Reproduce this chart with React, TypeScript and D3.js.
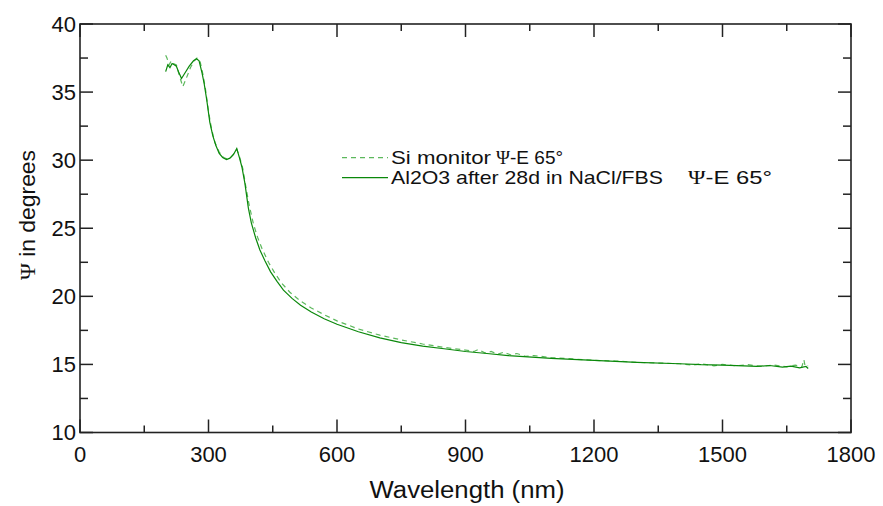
import React from "react";
import * as d3 from "d3";

const siWl = [200, 203, 208, 213, 218, 225, 232, 240, 248, 258, 267, 273, 280, 287, 293, 300, 307, 315, 325, 335, 343, 352, 360, 366, 372, 380, 388, 395, 405, 415, 425, 440, 455, 470, 490, 515, 540, 570, 600, 650, 700, 750, 800, 850, 900, 920, 930, 945, 960, 975, 990, 1005, 1020, 1040, 1060, 1100, 1150, 1200, 1250, 1300, 1350, 1400, 1430, 1450, 1480, 1500, 1530, 1560, 1590, 1620, 1650, 1670, 1685, 1690, 1693, 1700];
const siPsi = [37.7, 37.5, 37.0, 37.3, 37.1, 37.0, 36.2, 35.4, 36.0, 36.8, 37.3, 37.5, 37.3, 36.3, 35.2, 33.6, 32.3, 31.3, 30.6, 30.2, 30.1, 30.2, 30.5, 30.8, 30.3, 29.4, 27.9, 26.7, 25.3, 24.3, 23.5, 22.5, 21.7, 21.0, 20.3, 19.65, 19.15, 18.65, 18.2, 17.6, 17.15, 16.8, 16.5, 16.25, 16.05, 15.95, 16.1, 15.85, 15.95, 15.75, 15.9, 15.7, 15.8, 15.6, 15.65, 15.5, 15.4, 15.3, 15.25, 15.15, 15.1, 15.05, 14.95, 15.05, 14.9, 15.0, 14.9, 14.98, 14.85, 14.95, 14.82, 14.95, 14.8, 15.35, 14.85, 14.9];

const alWl = [200, 205, 210, 215, 220, 225, 230, 237, 245, 255, 265, 272, 278, 285, 290, 296, 303, 310, 317, 325, 333, 342, 350, 358, 366, 372, 378, 385, 393, 400, 410, 420, 432, 445, 460, 475, 495, 515, 540, 570, 600, 650, 700, 750, 800, 850, 900, 950, 1000, 1100, 1200, 1300, 1400, 1450, 1500, 1550, 1580, 1610, 1640, 1660, 1680, 1695, 1700];
const alPsi = [36.5, 37.0, 36.8, 37.1, 37.0, 36.9, 36.5, 36.0, 36.4, 36.9, 37.3, 37.45, 37.3, 36.4, 35.6, 34.4, 32.8, 31.8, 31.1, 30.5, 30.2, 30.05, 30.15, 30.4, 30.85, 30.2, 29.5, 28.3, 26.5, 25.4, 24.3, 23.4, 22.6, 21.8, 21.1, 20.45, 19.85, 19.35, 18.85, 18.35, 17.95, 17.4, 16.95, 16.6, 16.35, 16.15, 15.95, 15.8, 15.65, 15.45, 15.3, 15.15, 15.05, 14.98, 14.95, 14.9, 14.85, 14.92, 14.8, 14.88, 14.75, 14.85, 14.7];

const xMajor = [0, 300, 600, 900, 1200, 1500, 1800];
const xMinor = [150, 450, 750, 1050, 1350, 1650];
const yMajor = [10, 15, 20, 25, 30, 35, 40];
const yMinor = [12.5, 17.5, 22.5, 27.5, 32.5, 37.5];

const siLabel = "Si monitor";
const alLabel = "Al2O3 after 28d in NaCl/FBS";
const psiSuffix = "-E 65°";

export default function App() {
  const W = 883, H = 506;
  const L = 80, R = 851, T = 24, B = 432.5;
  const x = d3.scaleLinear().domain([0, 1800]).range([L, R]);
  const y = d3.scaleLinear().domain([10, 40]).range([B, T]);
  const line = d3.line<[number, number]>().x(d => x(d[0])).y(d => y(d[1]));
  const siPts = siWl.map((w, i) => [w, siPsi[i]] as [number, number]);
  const alPts = alWl.map((w, i) => [w, alPsi[i]] as [number, number]);
  const font = "'Liberation Sans', Arial, sans-serif";
  const serif = "'Liberation Serif', 'DejaVu Serif', serif";
  const ax = "#222";
  const maj = 13, mnr = 7;
  const lf = 19;
  return (
    <svg width={W} height={H} style={{ position: "absolute", left: 0, top: 0, background: "#fff" }} fontFamily={font}>
      <rect x={0} y={0} width={W} height={H} fill="#fff" />
      <path d={line(siPts) || ""} fill="none" stroke="#5cb85c" strokeWidth={1.2} strokeDasharray="5,4" />
      <path d={line(alPts) || ""} fill="none" stroke="#0a880a" strokeWidth={1.2} />
      <rect x={L} y={T} width={R - L} height={B - T} fill="none" stroke={ax} strokeWidth={1.6} />
      {xMajor.map(v => (
        <g key={"xM" + v}>
          <line x1={x(v)} x2={x(v)} y1={B} y2={B - maj} stroke={ax} strokeWidth={1.5} />
          <line x1={x(v)} x2={x(v)} y1={T} y2={T + maj} stroke={ax} strokeWidth={1.5} />
          <text x={x(v)} y={462} textAnchor="middle" fontSize={22} fill="#111">{v}</text>
        </g>
      ))}
      {xMinor.map(v => (
        <g key={"xm" + v}>
          <line x1={x(v)} x2={x(v)} y1={B} y2={B - mnr} stroke={ax} strokeWidth={1.5} />
          <line x1={x(v)} x2={x(v)} y1={T} y2={T + mnr} stroke={ax} strokeWidth={1.5} />
        </g>
      ))}
      {yMajor.map(v => (
        <g key={"yM" + v}>
          <line x1={L} x2={L + maj} y1={y(v)} y2={y(v)} stroke={ax} strokeWidth={1.5} />
          <line x1={R} x2={R - maj} y1={y(v)} y2={y(v)} stroke={ax} strokeWidth={1.5} />
          <text x={76} y={y(v) + 7.5} textAnchor="end" fontSize={22} fill="#111">{v}</text>
        </g>
      ))}
      {yMinor.map(v => (
        <g key={"ym" + v}>
          <line x1={L} x2={L + mnr + 1} y1={y(v)} y2={y(v)} stroke={ax} strokeWidth={1.5} />
          <line x1={R} x2={R - mnr - 1} y1={y(v)} y2={y(v)} stroke={ax} strokeWidth={1.5} />
        </g>
      ))}
      <text x={467} y={498} textAnchor="middle" fontSize={23} fill="#111" textLength={195} lengthAdjust="spacingAndGlyphs">Wavelength (nm)</text>
      <text transform="translate(35,215) rotate(-90)" textAnchor="middle" fontSize={22} fill="#111" textLength={130} lengthAdjust="spacingAndGlyphs">
        <tspan fontFamily={serif}>Ψ</tspan> in degrees
      </text>
      <line x1={342} x2={388} y1={157.7} y2={157.7} stroke="#5cb85c" strokeWidth={1.2} strokeDasharray="5,4" />
      <line x1={342} x2={388} y1={177.7} y2={177.7} stroke="#0a880a" strokeWidth={1.2} />
      <text x={391} y={164.3} fontSize={lf} fill="#111" textLength={100} lengthAdjust="spacingAndGlyphs">{siLabel}</text>
      <text x={496} y={164.3} fontSize={lf} fill="#111">
        <tspan fontFamily={serif}>Ψ</tspan>{psiSuffix}
      </text>
      <text x={391} y={184.3} fontSize={lf} fill="#111" textLength={272} lengthAdjust="spacingAndGlyphs">{alLabel}</text>
      <text x={688} y={184.3} fontSize={lf} fill="#111" textLength={84} lengthAdjust="spacingAndGlyphs">
        <tspan fontFamily={serif}>Ψ</tspan>{psiSuffix}
      </text>
    </svg>
  );
}
